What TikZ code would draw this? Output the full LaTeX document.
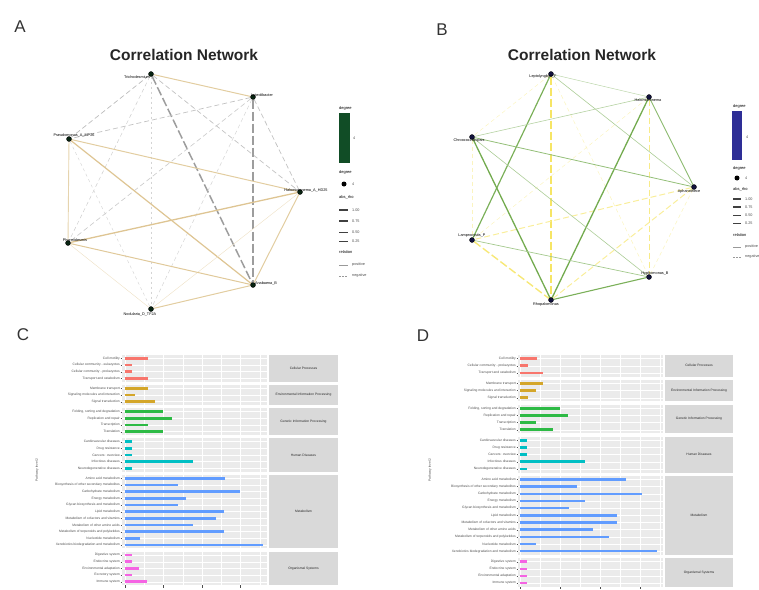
\documentclass[tikz,border=0pt]{standalone}
\usepackage{fontspec}
\setmainfont{Liberation Sans}
\usetikzlibrary{backgrounds}
\definecolor{posA}{HTML}{D6B778}
\definecolor{negA}{HTML}{858585}
\definecolor{posB}{HTML}{5A9C30}
\definecolor{negB}{HTML}{F4E04A}
\definecolor{panelbg}{HTML}{EBEBEB}
\definecolor{stripbg}{HTML}{D9D9D9}
\definecolor{gR}{HTML}{F8766D}
\definecolor{gY}{HTML}{D4A62A}
\definecolor{gG}{HTML}{2DBA45}
\definecolor{gC}{HTML}{00BFC4}
\definecolor{gB}{HTML}{619CFF}
\definecolor{gM}{HTML}{F564E3}
\definecolor{txtgray}{HTML}{4D4D4D}
\definecolor{degA}{HTML}{114D26}
\definecolor{degB}{HTML}{2E2E96}
\newcommand{\kfacet}[8]{%
  \pgfmathsetmacro{\ybot}{#4+#5*\pitch}%
  \fill[panelbg] (#1,#4) rectangle (#2,\ybot);
  \fill[stripbg] (#2+2,#4) rectangle (#3,\ybot);
  \foreach \gx in \gridmajor {\draw[white,line width=0.5pt] (\gx,#4) -- (\gx,\ybot);}
  \foreach \gx in \gridminor {\draw[white,line width=0.25pt] (\gx,#4) -- (\gx,\ybot);}
  \node[striptxt] at ({(#2+2+#3)/2},{(#4+\ybot)/2}) {#7};
  \foreach \lab/\val [count=\i] in {#8}{
    \pgfmathsetmacro{\yy}{#4+(\i-0.5)*\pitch}
    \draw[white,line width=0.5pt] (#1,\yy) -- (#2,\yy);
    \fill[#6] (\barx,\yy-1.3) rectangle (\val,\yy+1.3);
    \draw[txtgray,line width=0.3pt] (#1-1.5,\yy) -- (#1,\yy);
    \node[axtxt,anchor=east] at (#1-2,\yy) {\lab};
  }
}
\begin{document}
\begin{tikzpicture}[x=1pt,y=-1pt,
  ndA/.style={circle,fill=degA!45!black,draw=black,line width=0.3pt,inner sep=0pt,minimum size=5pt},
  ndB/.style={circle,fill=degB!40!black,draw=black,line width=0.3pt,inner sep=0pt,minimum size=5pt},
  lbl/.style={font=\fontsize{3.8}{4.5}\selectfont,inner sep=0pt,text=black},
  ttl/.style={font=\fontsize{15.5}{18}\selectfont\bfseries,text=black!85},
  letter/.style={font=\fontsize{17}{20}\selectfont,text=black!80},
  lgd/.style={font=\fontsize{3.8}{4.5}\selectfont,inner sep=0pt,text=txtgray,anchor=west},
  lgdh/.style={font=\fontsize{4}{5}\selectfont,inner sep=0pt,text=black,anchor=west},
  axtxt/.style={font=\fontsize{3.3}{4}\selectfont,inner sep=0pt,text=txtgray},
  striptxt/.style={font=\fontsize{3.3}{4}\selectfont,inner sep=0pt,text=black!85},
]
\clip (0,0) rectangle (759,589);

% ---------------- Panel letters and titles
\node[letter] (LA) at (20,27) {A};
\node[letter] (LB) at (442,30) {B};
\node[letter] (LC) at (23,335) {C};
\node[letter] (LD) at (423,336) {D};
\node[ttl] (TA) at (184,55) {Correlation Network};
\node[ttl] (TB) at (582,55) {Correlation Network};

% ---------------- Network A
\node[ndA] (a1) at (151,74) {};
\node[ndA] (a2) at (253,97) {};
\node[ndA] (a3) at (69,139) {};
\node[ndA] (a4) at (300,192) {};
\node[ndA] (a5) at (68,243) {};
\node[ndA] (a6) at (253,285) {};
\node[ndA] (a7) at (151,309) {};
\begin{scope}[on background layer]
\foreach \s/\t/\lw/\op/\dl in {a1/a3/0.7/55/5, a1/a4/0.7/50/5, a1/a5/0.5/40/4, a1/a6/1.5/80/9,
  a1/a7/0.35/35/2, a2/a3/0.7/50/5, a2/a4/0.7/50/5, a2/a5/0.6/45/5, a2/a6/1.5/80/9,
  a2/a7/0.5/35/4, a3/a7/0.45/35/3}
  \draw[draw=negA!\op!white, line width=\lw pt, dash pattern=on \dl pt off 3pt] (\s) -- (\t);
\foreach \s/\t/\lw/\op in {a1/a2/1.0/70, a3/a4/1.0/70, a3/a5/0.9/60, a3/a6/1.2/80, a4/a5/1.3/80,
  a4/a6/1.0/70, a4/a7/0.45/40, a5/a6/1.0/75, a5/a7/0.45/40, a6/a7/1.0/70}
  \draw[draw=posA!\op!white, line width=\lw pt] (\s) -- (\t);
\end{scope}
\node[lbl] (a1l) at (137,77) {Trichodesmium};
\node[lbl] (a2l) at (262,95) {Luteolibacter};
\node[lbl] (a3l) at (74,135) {Pseudomonas\_A\_MP26};
\node[lbl] (a4l) at (306,190) {Halomicronema\_A\_HD25};
\node[lbl] (a5l) at (75,240) {Phormidesmis};
\node[lbl] (a6l) at (266,283) {Anabaena\_B};
\node[lbl] (a7l) at (140,314) {Nodularia\_D\_TF2A};

% legend A
\node[lgdh] (lAd) at (339,108) {degree};
\fill[degA] (339,113) rectangle (350,163);
\node[lgd] (lA4) at (353,138) {4};
\node[lgdh] (lAd2) at (339,172) {degree};
\node[circle,fill=black,inner sep=0pt,minimum size=5pt] (lAdot) at (344,184) {};
\node[lgd] (lAdt) at (352,184) {4};
\node[lgdh] (lAr) at (339,197) {abs\_rho};
\foreach \yy/\lw/\tx in {210/2.0/1.00, 221/1.5/0.75, 232/1.0/0.50, 241/0.5/0.25}{
  \draw[black!75,line width=\lw pt] (339,\yy) -- (348,\yy);
  \node[lgd] at (352,\yy) {\tx};
}
\node[lgdh] (lArel) at (339,252) {relation};
\draw[black!40,line width=0.4pt] (339,265) -- (348,265);
\node[lgd] (lApos) at (352,265) {positive};
\draw[black!40,line width=0.4pt,dash pattern=on 1.5pt off 1.5pt] (339,276) -- (348,276);
\node[lgd] (lAneg) at (352,276) {negative};

% ---------------- Network B
\node[ndB] (b1) at (551,74) {};
\node[ndB] (b2) at (649,97) {};
\node[ndB] (b3) at (472,137) {};
\node[ndB] (b4) at (694,187) {};
\node[ndB] (b5) at (472,240) {};
\node[ndB] (b6) at (649,277) {};
\node[ndB] (b7) at (551,300) {};
\begin{scope}[on background layer]
\foreach \s/\t/\lw/\op/\dl in {b1/b3/0.5/35/4, b1/b6/0.5/35/4, b1/b7/1.6/85/8, b2/b5/0.5/35/4,
  b2/b6/1.0/65/6, b3/b5/0.5/35/4, b4/b5/1.0/55/6, b4/b6/0.5/35/4, b4/b7/1.0/55/6, b5/b7/1.4/75/8}
  \draw[draw=negB!\op!white, line width=\lw pt, dash pattern=on \dl pt off 3pt] (\s) -- (\t);
\foreach \s/\t/\lw/\op in {b1/b2/0.5/40, b1/b4/0.6/50, b1/b5/1.2/80, b2/b3/0.6/45, b2/b4/0.9/70,
  b2/b7/1.3/85, b3/b4/0.8/65, b3/b6/0.6/50, b3/b7/1.3/85, b5/b6/0.7/55, b6/b7/1.1/80}
  \draw[draw=posB!\op!white, line width=\lw pt] (\s) -- (\t);
\end{scope}
\node[lbl] (b1l) at (543,77) {Leptolyngbya\_F};
\node[lbl] (b2l) at (648,100) {Halomicronema};
\node[lbl] (b3l) at (469,141) {Chroococcidiopsis};
\node[lbl] (b4l) at (689,192) {Aphanothece};
\node[lbl] (b5l) at (472,236) {Lamprocystis\_P};
\node[lbl] (b6l) at (655,274) {Hyphomonas\_B};
\node[lbl] (b7l) at (546,305) {Rhopalomonas};

% legend B
\node[lgdh] (lBd) at (733,106) {degree};
\fill[degB] (732,111) rectangle (742,160);
\node[lgd] (lB4) at (746,137) {4};
\node[lgdh] (lBd2) at (733,168) {degree};
\node[circle,fill=black,inner sep=0pt,minimum size=5pt] (lBdot) at (737,178) {};
\node[lgd] (lBdt) at (745,178) {4};
\node[lgdh] (lBr) at (733,189) {abs\_rho};
\foreach \yy/\lw/\tx in {199/2.0/1.00, 207/1.5/0.75, 215/1.0/0.50, 223/0.5/0.25}{
  \draw[black!75,line width=\lw pt] (733,\yy) -- (741,\yy);
  \node[lgd] at (745,\yy) {\tx};
}
\node[lgdh] (lBrel) at (733,235) {relation};
\draw[black!40,line width=0.4pt] (733,247) -- (741,247);
\node[lgd] (lBpos) at (745,247) {positive};
\draw[black!40,line width=0.4pt,dash pattern=on 1.5pt off 1.5pt] (733,257) -- (741,257);
\node[lgd] (lBneg) at (745,257) {negative};

% ---------------- Panel C
\def\pitch{6.67}\def\barx{125}
\def\gridmajor{125,163.5,202,240.5}\def\gridminor{144.25,182.75,221.25,259.75}
\kfacet{122}{267}{338}{355}{4}{gR}{Cellular Processes}{Cell motility/148, Cellular community - eukaryotes/132, Cellular community - prokaryotes/132, Transport and catabolism/148}
\kfacet{122}{267}{338}{385.01}{3}{gY}{Environmental Information Processing}{Membrane transport/148, Signaling molecules and interaction/135, Signal transduction/155}
\kfacet{122}{267}{338}{408.35}{4}{gG}{Genetic Information Processing}{Folding{,} sorting and degradation/163, Replication and repair/172, Transcription/148, Translation/163}
\kfacet{122}{267}{338}{438.36}{5}{gC}{Human Diseases}{Cardiovascular diseases/132, Drug resistance/132, Cancers: overview/132, Infectious diseases/193, Neurodegenerative diseases/132}
\kfacet{122}{267}{338}{475.04}{11}{gB}{Metabolism}{Amino acid metabolism/225, Biosynthesis of other secondary metabolites/178, Carbohydrate metabolism/240, Energy metabolism/186, Glycan biosynthesis and metabolism/178, Lipid metabolism/224, Metabolism of cofactors and vitamins/216, Metabolism of other amino acids/193, Metabolism of terpenoids and polyketides/224, Nucleotide metabolism/140, Xenobiotics biodegradation and metabolism/263}
\kfacet{122}{267}{338}{551.74}{5}{gM}{Organismal Systems}{Digestive system/132, Endocrine system/132, Environmental adaptation/139, Excretory system/132, Immune system/147}
\foreach \gx in \gridmajor {\draw[txtgray,line width=0.3pt] (\gx,585.2) -- (\gx,587.5);}
\node[axtxt,rotate=90] (yC) at (37,470) {Pathway level 2};

% ---------------- Panel D
\def\pitch{7.17}\def\barx{520}
\def\gridmajor{520,560,600,640}\def\gridminor{540,580,620,660}
\kfacet{518}{663}{733}{355}{3}{gR}{Cellular Processes}{Cell motility/537, Cellular community - prokaryotes/528, Transport and catabolism/543}
\kfacet{518}{663}{733}{379.84}{3}{gY}{Environmental Information Processing}{Membrane transport/543, Signaling molecules and interaction/536, Signal transduction/528}
\kfacet{518}{663}{733}{404.68}{4}{gG}{Genetic Information Processing}{Folding{,} sorting and degradation/560, Replication and repair/568, Transcription/536, Translation/553}
\kfacet{518}{663}{733}{436.69}{5}{gC}{Human Diseases}{Cardiovascular diseases/527, Drug resistance/527, Cancers: overview/527, Infectious diseases/585, Neurodegenerative diseases/527}
\kfacet{518}{663}{733}{475.87}{11}{gB}{Metabolism}{Amino acid metabolism/626, Biosynthesis of other secondary metabolites/577, Carbohydrate metabolism/642, Energy metabolism/585, Glycan biosynthesis and metabolism/569, Lipid metabolism/617, Metabolism of cofactors and vitamins/617, Metabolism of other amino acids/593, Metabolism of terpenoids and polyketides/609, Nucleotide metabolism/536, Xenobiotics biodegradation and metabolism/657}
\kfacet{518}{663}{733}{558.07}{4}{gM}{Organismal Systems}{Digestive system/527, Endocrine system/527, Environmental adaptation/527, Immune system/527}
\foreach \gx in \gridmajor {\draw[txtgray,line width=0.3pt] (\gx,586.8) -- (\gx,589);}
\node[axtxt,rotate=90] (yD) at (430,470) {Pathway level 2};
\end{tikzpicture}
\end{document}
